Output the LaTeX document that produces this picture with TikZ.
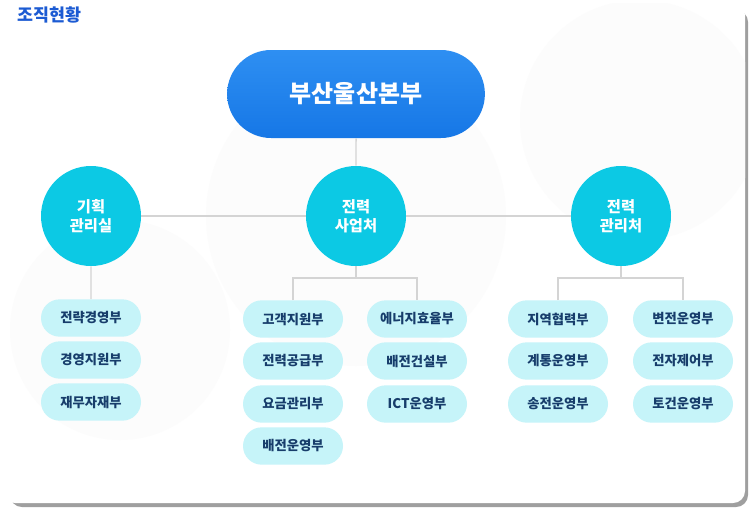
\documentclass[tikz,border=0pt]{standalone}
\usepackage{fontspec}
\setmainfont{Noto Sans CJK KR}
\usetikzlibrary{shapes.misc}
\definecolor{hqtop}{HTML}{2E8FF2}
\definecolor{hqbot}{HTML}{1677E6}
\definecolor{dept}{HTML}{0CC9E4}
\definecolor{team}{HTML}{C6F4F9}
\definecolor{teamtext}{HTML}{173D6B}
\definecolor{titleblue}{HTML}{1C5BD3}
\definecolor{wire}{HTML}{D4D4D4}
\definecolor{haze}{HTML}{FCFCFC}
\begin{document}
\begin{tikzpicture}[x=0.75pt,y=-0.75pt,
    hq/.style={rounded rectangle,top color=hqtop,bottom color=hqbot,
        minimum width=200pt,minimum height=66pt,text=white,
        font=\fontsize{18}{20}\selectfont\bfseries},
    dept/.style={circle,fill=dept,minimum size=75pt,inner sep=0pt,
        text=white,align=center,font=\fontsize{11.5}{14}\selectfont\bfseries},
    wire/.style={draw=wire,line width=1.1pt}]
    \tikzstyle{team}=[rounded rectangle,fill=team,minimum width=75pt,
        minimum height=28pt,inner sep=0pt,text=teamtext,
        font=\fontsize{10}{12}\selectfont\bfseries]

    \useasboundingbox (0,0) rectangle (752,511);
    % frame with shadow
    \fill[gray!75,rounded corners=9pt] (10,10) rectangle (748,507);
    \fill[white,rounded corners=9pt] (3,3) rectangle (745,503);
    \begin{scope}
        \clip[rounded corners=9pt] (3,3) rectangle (745,503);
        \fill[haze] (356,216) circle (150);
        \fill[haze] (120,330) circle (110);
        \fill[haze] (640,120) circle (120);
    \end{scope}

    \node[anchor=west,text=titleblue,font=\fontsize{13}{15}\selectfont\bfseries] (title) at (13,15) {조직현황};

    \node[hq] (hq) at (356,94) {부산울산본부};

    \node[dept] (plan) at (91,216) {기획\\관리실};
    \node[dept] (biz) at (356,216) {전력\\사업처};
    \node[dept] (mgmt) at (621,216) {전력\\관리처};

    % 기획관리실
    \node[team] (p1) at (91,318) {전략경영부};
    \node[team] (p2) at (91,360) {경영지원부};
    \node[team] (p3) at (91,402) {재무자재부};

    % 전력사업처
    \node[team] (b1) at (293,319) {고객지원부};
    \node[team] (b2) at (293,361) {전력공급부};
    \node[team] (b3) at (293,404) {요금관리부};
    \node[team] (b4) at (293,446) {배전운영부};
    \node[team] (b5) at (417,319) {에너지효율부};
    \node[team] (b6) at (417,361) {배전건설부};
    \node[team] (b7) at (417,404) {ICT운영부};

    % 전력관리처
    \node[team] (m1) at (558,319) {지역협력부};
    \node[team] (m2) at (558,361) {계통운영부};
    \node[team] (m3) at (558,404) {송전운영부};
    \node[team] (m4) at (683,319) {변전운영부};
    \node[team] (m5) at (683,361) {전자제어부};
    \node[team] (m6) at (683,404) {토건운영부};

    \coordinate (bizfork) at (356,278);
    \coordinate (mgmtfork) at (621,278);

    \draw[wire] (hq) -- (biz);
    \draw[wire] (plan) -- (biz);
    \draw[wire] (biz) -- (mgmt);
    \draw[wire] (plan) -- (p1);
    \draw[wire] (biz) -- (bizfork);
    \draw[wire] (b1.north) |- (bizfork) -| (b5.north);
    \draw[wire] (mgmt) -- (mgmtfork);
    \draw[wire] (m1.north) |- (mgmtfork) -| (m4.north);

\end{tikzpicture}
\end{document}
